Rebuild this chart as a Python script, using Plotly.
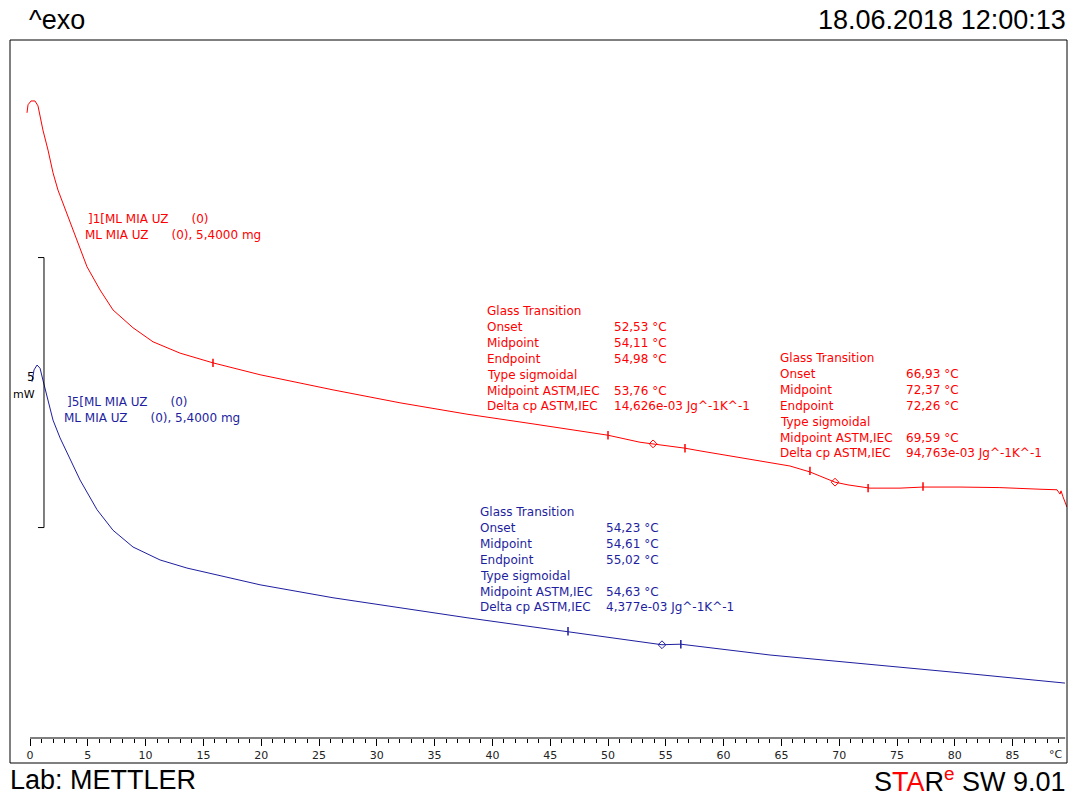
import plotly.graph_objects as go

# ---------------- data (temperature in °C, heat flow in mW, arbitrary offset) ----------------
red_T = [-0.26, -0.17, 0.09, 0.43, 0.69, 1.12, 1.56, 1.99, 2.42, 2.85, 3.46, 4.07, 4.93, 6.06,
         7.18, 8.91, 10.64, 12.98, 15.83, 19.90, 26.21, 32.01, 37.80, 43.51, 50.00, 52.77,
         53.90, 56.66, 57.96, 62.28, 65.74, 67.47, 68.34, 69.64, 70.76, 71.80, 72.66, 75.26,
         77.25, 80.45, 83.90, 87.37, 88.84, 89.10, 89.19, 89.36, 89.70]
red_mW = [12.04, 12.19, 12.26, 12.26, 12.17, 11.72, 11.35, 10.93, 10.61, 10.37, 10.02, 9.69, 9.19, 8.76,
          8.39, 8.06, 7.80, 7.59, 7.41, 7.19, 6.91, 6.67, 6.46, 6.28, 6.07, 5.94,
          5.91, 5.83, 5.78, 5.63, 5.50, 5.39, 5.31, 5.20, 5.15, 5.11, 5.09, 5.09,
          5.11, 5.11, 5.10, 5.07, 5.06, 4.98, 5.04, 4.93, 4.74]

blue_T = [0.17, 0.35, 0.61, 0.87, 1.12, 1.56, 1.99, 2.60, 3.20, 4.33, 5.80, 7.18, 8.91, 11.25,
          13.58, 17.04, 19.90, 26.21, 32.01, 37.80, 43.51, 46.54, 52.77, 54.67, 56.30, 64.01,
          80.45, 89.10, 89.53]
blue_mW = [7.06, 7.28, 7.37, 7.31, 7.09, 6.72, 6.35, 6.02, 5.74, 5.24, 4.69, 4.31, 4.00, 3.76,
           3.61, 3.44, 3.30, 3.06, 2.87, 2.69, 2.52, 2.43, 2.24, 2.19, 2.20, 2.00,
           1.67, 1.48, 1.48]

# evaluation marks (limits = ticks, midpoints = diamonds)
red_lim_T = [15.83, 50.00, 56.66, 67.47, 72.50, 77.25]
red_lim_mW = [7.41, 6.07, 5.83, 5.41, 5.09, 5.12]
red_mid_T = [53.90, 69.64]
red_mid_mW = [5.91, 5.20]
blue_lim_T = [46.54, 56.30]
blue_lim_mW = [2.44, 2.20]
blue_mid_T = [54.67]
blue_mid_mW = [2.19]

x_major = list(range(0, 90, 5))
x_minor = [t for t in range(0, 90) if t % 5]
scale_mW = 5
scale_bottom_mW = 4.36
scale_T = 1.21

red_label = ["]1[ML MIA UZ\u00a0\u00a0\u00a0\u00a0\u00a0\u00a0(0)",
             "ML MIA UZ\u00a0\u00a0\u00a0\u00a0\u00a0\u00a0(0), 5,4000 mg"]
blue_label = ["]5[ML MIA UZ\u00a0\u00a0\u00a0\u00a0\u00a0\u00a0(0)",
              "ML MIA UZ\u00a0\u00a0\u00a0\u00a0\u00a0\u00a0(0), 5,4000 mg"]
gt_names = ["Glass Transition", "Onset", "Midpoint", "Endpoint", "Type sigmoidal",
            "Midpoint ASTM,IEC", "Delta cp ASTM,IEC"]
gt_red1 = ["", "52,53 °C", "54,11 °C", "54,98 °C", "", "53,76 °C", "14,626e-03 Jg^-1K^-1"]
gt_red2 = ["", "66,93 °C", "72,37 °C", "72,26 °C", "", "69,59 °C", "94,763e-03 Jg^-1K^-1"]
gt_blue = ["", "54,23 °C", "54,61 °C", "55,02 °C", "", "54,63 °C", "4,377e-03 Jg^-1K^-1"]

# ---------------- styling ----------------
RED = "#ff0000"
BLUE = "#1e1ea0"
W, H = 1073, 796
L, R, T, B = 10, 1067, 40, 763          # plot frame in pixels
PW, PH = R - L, B - T
SMALL = "DejaVu Sans"
BIG = "Liberation Sans"
FS = 12


def px(x, y):
    return (x - L) / PW, (B - y) / PH


fig = go.Figure()
fig.add_trace(go.Scatter(x=red_T, y=red_mW, mode="lines", line=dict(color=RED, width=1),
                         hoverinfo="skip"))
fig.add_trace(go.Scatter(x=blue_T, y=blue_mW, mode="lines", line=dict(color=BLUE, width=1),
                         hoverinfo="skip"))
for xs, ys, col in [(red_lim_T, red_lim_mW, RED), (blue_lim_T, blue_lim_mW, BLUE)]:
    fig.add_trace(go.Scatter(x=xs, y=ys, mode="markers",
                             marker=dict(symbol="line-ns", size=6, line=dict(color=col, width=1.5)),
                             hoverinfo="skip"))
for xs, ys, col in [(red_mid_T, red_mid_mW, RED), (blue_mid_T, blue_mid_mW, BLUE)]:
    fig.add_trace(go.Scatter(x=xs, y=ys, mode="markers",
                             marker=dict(symbol="diamond-open", size=6, color=col, line=dict(color=col, width=1)),
                             hoverinfo="skip"))

shapes = []
# frame
shapes.append(dict(type="rect", xref="paper", yref="paper", x0=0, x1=1, y0=0, y1=1,
                   line=dict(color="black", width=1)))
# x axis baseline
ax_pos = (B - 738) / PH
shapes.append(dict(type="line", xref="x", yref="paper", x0=0, x1=89.55, y0=ax_pos, y1=ax_pos,
                   line=dict(color="black", width=1)))
# scale bar
top = scale_bottom_mW + scale_mW
shapes.append(dict(type="line", xref="x", yref="y", x0=scale_T, x1=scale_T, y0=scale_bottom_mW, y1=top,
                   line=dict(color="black", width=1)))
for yv in (scale_bottom_mW, top):
    shapes.append(dict(type="line", xref="x", yref="y", x0=scale_T - 0.52, x1=scale_T, y0=yv, y1=yv,
                       line=dict(color="black", width=1)))

ann = []


def text(x, y, s, color="black", size=FS, font=SMALL, xanchor="left"):
    xp, yp = px(x, y)
    ann.append(dict(x=xp, y=yp, xref="paper", yref="paper", text=s, showarrow=False,
                    xanchor=xanchor, yanchor="middle", font=dict(family=font, size=size, color=color)))


# headers / footers
text(27, 20, "^exo", size=27, font=BIG)
text(1068, 20, "18.06.2018 12:00:13", size=27, font=BIG, xanchor="right")
text(8, 780, "Lab: METTLER", size=27, font=BIG)
text(1068, 780, "S<span style='color:#ff0000'>TA</span>R<sup><span style='color:#ff0000'>e</span></sup> SW 9.01",
     size=27, font=BIG, xanchor="right")

# curve labels
for i, s in enumerate(red_label):
    text(86 - 3 * i, 219 + 16 * i, s, color=RED)
for i, s in enumerate(blue_label):
    text(65 - 3 * i, 402 + 16 * i, s, color=BLUE)

# glass transition tables
for (x0, x1, y0, vals, col) in [(485, 612, 311, gt_red1, RED), (778, 904, 358, gt_red2, RED),
                                (478, 604, 512, gt_blue, BLUE)]:
    for i, (nm, v) in enumerate(zip(gt_names, vals)):
        yy = y0 + i * 15.9
        text(x0, yy, nm, color=col)
        if v:
            text(x1, yy, v, color=col)

# scale bar label
text(31, 377, "5", size=12, xanchor="center")
text(24, 394, "mW", size=11, xanchor="center")
# axis unit
text(1056, 754, "°C", size=11, color="#222222", xanchor="center")

fig.update_layout(
    width=W, height=H,
    margin=dict(l=L, r=W - R, t=T, b=H - B, pad=0),
    paper_bgcolor="white", plot_bgcolor="white",
    showlegend=False,
    shapes=shapes, annotations=ann,
    xaxis=dict(range=[(L - 30) / 11.56, (R - 30) / 11.56], anchor="free", position=ax_pos,
               showgrid=False, zeroline=False, showline=False,
               tickmode="array", tickvals=x_major, ticktext=[str(v) for v in x_major],
               ticks="outside", ticklen=7, tickwidth=1, tickcolor="black",
               tickfont=dict(family=SMALL, size=11, color="#222222"),
               minor=dict(tickmode="array", tickvals=x_minor, ticks="outside", ticklen=4,
                          tickwidth=1, tickcolor="black", showgrid=False)),
    yaxis=dict(range=[0, PH / 54.0], visible=False, showgrid=False, zeroline=False),
)

fig.write_html("out.html", config={"displayModeBar": False},
               post_script="document.body.style.margin='0';")
